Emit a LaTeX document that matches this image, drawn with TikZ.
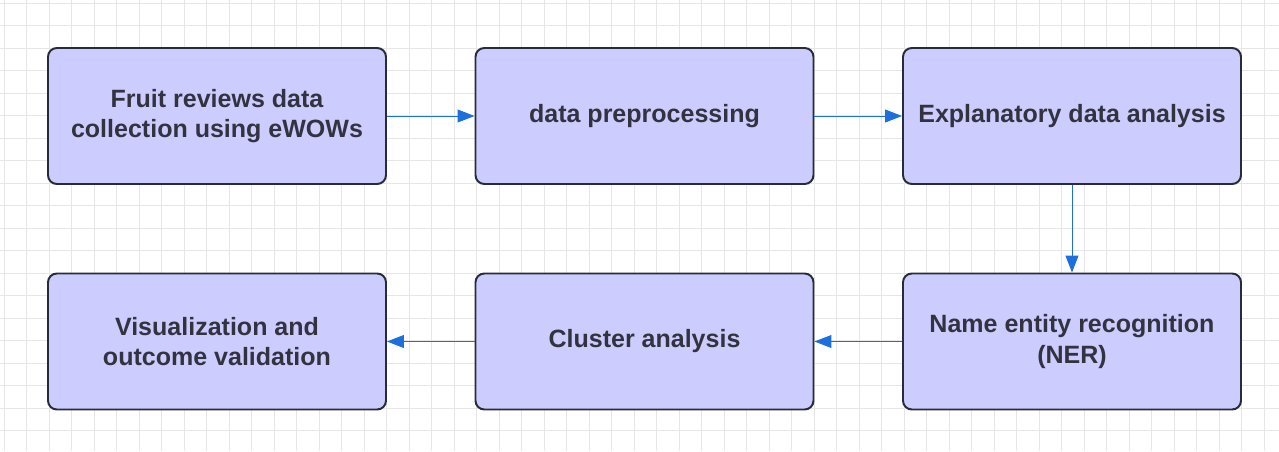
\documentclass[tikz,border=0pt]{standalone}
\usepackage{fontspec}
\setmainfont{Liberation Sans}
\usepackage{tikz}
\usetikzlibrary{arrows.meta}

\definecolor{boxfill}{HTML}{CCCCFF}
\definecolor{boxline}{HTML}{282B3A}
\definecolor{boxtext}{HTML}{333340}
\definecolor{flowblue}{HTML}{1E6FDE}
\definecolor{gridgray}{HTML}{E6E6E6}

\tikzset{
  stagebox/.style={draw=boxline,fill=boxfill,line width=1.4pt,rounded corners=0.22cm,
    minimum width=8.45cm,minimum height=3.4cm,inner sep=0pt,align=center,
    text=boxtext,font=\fontsize{17.8}{21.8}\selectfont\bfseries},
  flow/.style={draw=flowblue,line width=0.7pt,-{Triangle[length=0.42cm,width=0.32cm]}},
  gridline/.style={draw=gridgray,line width=0.7pt}
}

\begin{document}
\begin{tikzpicture}
\useasboundingbox (0,0) rectangle (31.975,11.275);
\fill[white] (0,0) rectangle (31.975,11.275);
\begin{scope}[shift={(0.1,0.505)}]
\draw[gridline,step=0.5625] (-0.1,-0.505) grid (31.875,10.77);
\end{scope}

\node[stagebox] (collect) at (5.425,8.375) {Fruit reviews data\\collection using eWOWs};
\node[stagebox] (prep) at (16.1125,8.375) {data preprocessing};
\node[stagebox] (explore) at (26.8,8.375) {Explanatory data analysis};
\node[stagebox] (ner) at (26.8,2.7375) {Name entity recognition\\(NER)};
\node[stagebox] (cluster) at (16.1125,2.7375) {Cluster analysis};
\node[stagebox] (visual) at (5.425,2.7375) {Visualization and\\outcome validation};

\draw[flow] (collect) -- (prep);
\draw[flow] (prep) -- (explore);
\draw[flow] (explore) -- (ner);
\draw[flow] (ner) -- (cluster);
\draw[flow] (cluster) -- (visual);

\end{tikzpicture}
\end{document}
